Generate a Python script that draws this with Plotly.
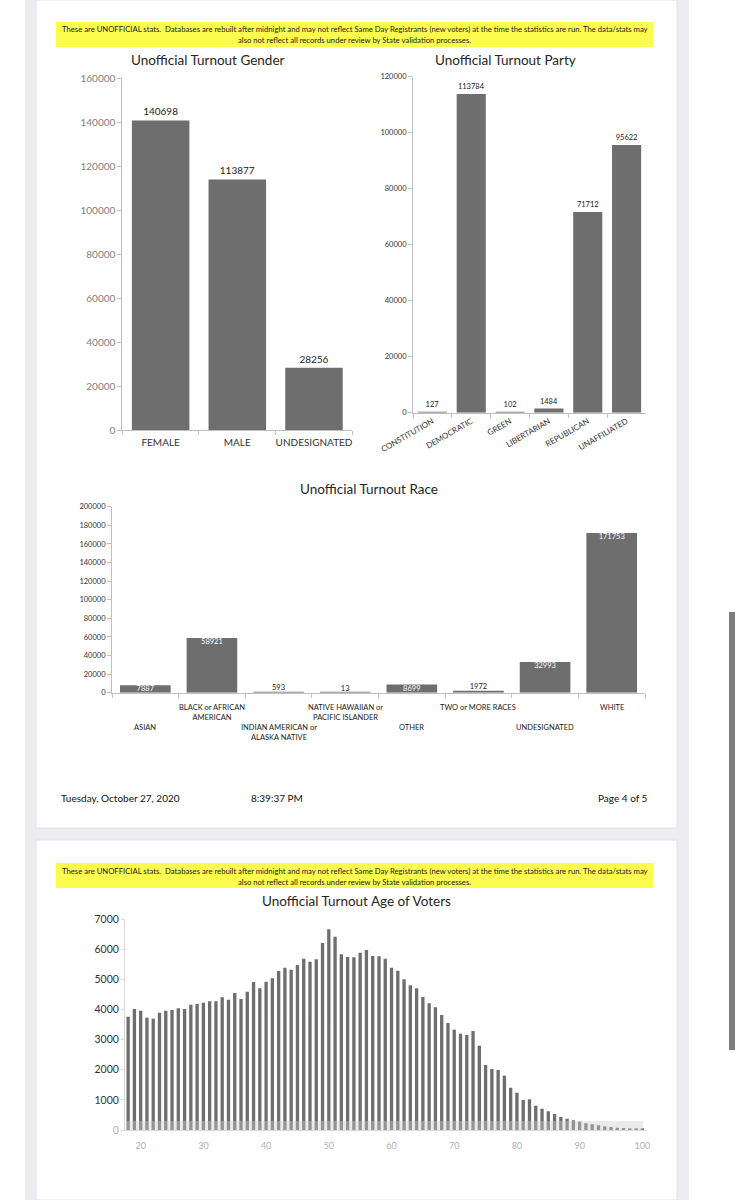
import plotly.graph_objects as go

# ---------------- data ----------------
gender_cats = ["FEMALE", "MALE", "UNDESIGNATED"]
gender_vals = [140698, 113877, 28256]

party_cats = ["CONSTITUTION", "DEMOCRATIC", "GREEN", "LIBERTARIAN", "REPUBLICAN", "UNAFFILIATED"]
party_vals = [127, 113784, 102, 1484, 71712, 95622]

race_cats = ["ASIAN", "BLACK or AFRICAN<br>AMERICAN", "INDIAN AMERICAN or<br>ALASKA NATIVE",
             "NATIVE HAWAIIAN or<br>PACIFIC ISLANDER", "OTHER", "TWO or MORE RACES",
             "UNDESIGNATED", "WHITE"]
race_vals = [7887, 58921, 593, 13, 8699, 1972, 32993, 171753]

ages = list(range(18, 101))
age_vals = [3765, 4020, 3965, 3732, 3699, 3898, 3965, 3987, 4042, 4020,
            4164, 4186, 4230, 4275, 4275, 4408, 4330, 4551, 4352, 4596,
            4917, 4707, 4928, 5039, 5282, 5393, 5327, 5482, 5692, 5592,
            5670, 6213, 6667, 6423, 5836, 5748, 5736, 5891, 5980, 5781,
            5770, 5692, 5393, 5293, 5006, 4806, 4707, 4419, 4208, 4075,
            3821, 3555, 3333, 3200, 3156, 3289, 2802, 2159, 2027, 1993,
            1805, 1406, 1240, 997, 1019, 808, 709, 620, 532, 432,
            377, 321, 277, 221, 188, 155, 122, 100, 77, 66,
            55, 44, 33]
age_ticks = [20, 30, 40, 50, 60, 70, 80, 90, 100]

banner_lines = [
    "These are UNOFFICIAL stats.  Databases are rebuilt after midnight and may not reflect Same Day Registrants (new voters) at the time the statistics are run. The data/stats may",
    "also not reflect all records under review by State validation processes.",
]
footer_date = "Tuesday, October 27, 2020"
footer_time = "8:39:37 PM"
footer_page = "Page 4 of 5"

# ---------------- style ----------------
W, H = 741, 1200
FONT = "Lato"
BAR = "#6e6e6e"
AXIS = "#bfbfbf"


def fx(p):
    return p / W


def fy(p):
    return 1 - p / H


fig = go.Figure()

# Gender
fig.add_trace(go.Bar(x=gender_cats, y=gender_vals, xaxis="x", yaxis="y", marker_color=BAR,
                     marker_line_width=0, width=0.75,
                     text=[str(v) for v in gender_vals], textposition="outside",
                     textfont=dict(family=FONT, size=10, color="#222222"), cliponaxis=False,
                     showlegend=False))
# Party
fig.add_trace(go.Bar(x=party_cats, y=party_vals, xaxis="x2", yaxis="y2", marker_color=BAR,
                     marker_line_width=0, width=0.75,
                     text=[str(v) for v in party_vals], textposition="outside",
                     textfont=dict(family=FONT, size=7.5, color="#222222"), cliponaxis=False,
                     showlegend=False))
# Race
fig.add_trace(go.Bar(x=race_cats, y=race_vals, xaxis="x3", yaxis="y3", marker_color=BAR,
                     marker_line_width=0, width=0.76, showlegend=False))
race_pos, race_y, race_col = [], [], []
for v in race_vals:
    if v > 20000:
        race_pos.append("bottom center"); race_y.append(v); race_col.append("white")
    elif v > 5000:
        race_pos.append("middle center"); race_y.append(v / 2); race_col.append("white")
    else:
        race_pos.append("top center"); race_y.append(v); race_col.append("#222222")
fig.add_trace(go.Scatter(x=race_cats, y=race_y, xaxis="x3", yaxis="y3", mode="text",
                         text=[str(v) for v in race_vals], textposition=race_pos,
                         textfont=dict(family=FONT, size=7.5, color=race_col),
                         cliponaxis=False, showlegend=False, hoverinfo="skip"))
# Age
fig.add_trace(go.Bar(x=ages, y=age_vals, xaxis="x4", yaxis="y4", marker_color=BAR,
                     marker_line_width=0, width=0.53, showlegend=False))

common_x = dict(showline=True, linecolor=AXIS, linewidth=1, showgrid=False, zeroline=False,
                ticks="outside", tickcolor=AXIS, ticklen=4, fixedrange=True, automargin=False)
common_y = dict(showline=True, linecolor=AXIS, linewidth=1, showgrid=False, zeroline=False,
                ticks="outside", tickcolor=AXIS, ticklen=4, tickformat="d", fixedrange=True,
                automargin=False)

fig.update_layout(
    width=W, height=H, autosize=False,
    margin=dict(l=0, r=0, t=0, b=0, pad=0, autoexpand=False),
    paper_bgcolor="white", plot_bgcolor="rgba(0,0,0,0)",
    font=dict(family=FONT, color="#222222"),
    showlegend=False,
    xaxis=dict(common_x, domain=[fx(122.3), fx(352.3)], anchor="y", type="category",
               tickson="boundaries", tickangle=0, tickfont=dict(size=10, color="#333333"),
               ticklabelstandoff=3),
    yaxis=dict(common_y, domain=[fy(430), fy(78)], anchor="x", range=[0, 160000], dtick=20000,
               tickfont=dict(size=10, color="#808080")),
    xaxis2=dict(common_x, domain=[fx(413), fx(646)], anchor="y2", type="category",
                tickson="boundaries", tickangle=-30, tickfont=dict(size=8, color="#333333")),
    yaxis2=dict(common_y, domain=[fy(412.7), fy(76.7)], anchor="x2", range=[0, 120000], dtick=20000,
                tickfont=dict(size=7.5, color="#333333")),
    xaxis3=dict(common_x, domain=[fx(112), fx(645)], anchor="y3", type="category",
                tickson="boundaries", showticklabels=False),
    yaxis3=dict(common_y, domain=[fy(692.7), fy(506.7)], anchor="x3", range=[0, 200000], dtick=20000,
                tickfont=dict(size=7.5, color="#333333")),
    xaxis4=dict(common_x, domain=[fx(125), fx(645.5)], anchor="y4", range=[17.5, 100.5],
                tickvals=age_ticks, ticks="", showline=True, linecolor="#d9d9d9", tickangle=0,
                tickfont=dict(size=9, color="#b0b0b0"), ticklabelstandoff=7),
    yaxis4=dict(common_y, domain=[fy(1130), fy(919.3)], anchor="x4", range=[0, 7000],
                tickvals=[0, 1000, 2000, 3000, 4000, 5000, 6000, 7000],
                ticktext=["<span style='color:#b0b0b0'>0</span>", "1000", "2000", "3000",
                          "4000", "5000", "6000", "7000"],
                linecolor="#d9d9d9", tickcolor="#d9d9d9", ticklen=3,
                tickfont=dict(size=10.5, color="#333333")),
)

# ---------------- background shapes ----------------
shapes = [
    dict(type="rect", xref="paper", yref="paper", x0=fx(25), x1=fx(689), y0=fy(1200), y1=fy(0),
         fillcolor="#ececf1", line_width=0, layer="below"),
    dict(type="rect", xref="paper", yref="paper", x0=fx(36), x1=fx(677), y0=fy(828), y1=fy(0),
         fillcolor="white", line=dict(color="#e2e2e6", width=1), layer="below"),
    dict(type="rect", xref="paper", yref="paper", x0=fx(36), x1=fx(677), y0=fy(1200), y1=fy(840),
         fillcolor="white", line=dict(color="#e2e2e6", width=1), layer="below"),
    dict(type="rect", xref="paper", yref="paper", x0=fx(56), x1=fx(653), y0=fy(47), y1=fy(22),
         fillcolor="#fcfc4e", line_width=0, layer="below"),
    dict(type="rect", xref="paper", yref="paper", x0=fx(56), x1=fx(653), y0=fy(888), y1=fy(863),
         fillcolor="#fcfc4e", line_width=0, layer="below"),
    dict(type="rect", xref="paper", yref="paper", x0=fx(729), x1=fx(735), y0=fy(1050), y1=fy(612),
         fillcolor="#7d7d7d", line_width=0, layer="below"),
    # faint blurred band at the foot of the age bars (scan artefact)
    dict(type="rect", xref="paper", yref="paper", x0=fx(126), x1=fx(643), y0=fy(1130), y1=fy(1121),
         fillcolor="rgba(205,205,205,0.4)", line_width=0, layer="above"),
]
fig.update_layout(shapes=shapes)

# ---------------- annotations ----------------
ann = []


def text(x, y, s, size, color="#222222", xanchor="center", yanchor="middle"):
    ann.append(dict(x=fx(x), y=fy(y), xref="paper", yref="paper", text=s,
                    showarrow=False, xanchor=xanchor, yanchor=yanchor,
                    font=dict(family=FONT, size=size, color=color)))


for top in (29, 871):
    text(354.5, top, banner_lines[0], 7.7)
    text(354.5, top + 11, banner_lines[1], 7.7)

text(208, 60, "Unofficial Turnout Gender", 13.5, "#262626")
text(505, 60, "Unofficial Turnout Party", 13.5, "#262626")
text(369, 489, "Unofficial Turnout Race", 13.5, "#262626")
text(356, 901, "Unofficial Turnout Age of Voters", 13.5, "#262626")

for i, c in enumerate(race_cats):
    ann.append(dict(x=c, y=fy(701 if i % 2 == 1 else 721), xref="x3", yref="paper", text=c,
                    showarrow=False, xanchor="center", yanchor="top",
                    font=dict(family=FONT, size=7.5, color="#222222")))

text(59, 798, footer_date, 10, "#111111", xanchor="left")
text(249, 798, footer_time, 10, "#111111", xanchor="left")
text(650, 798, footer_page, 10, "#111111", xanchor="right")

fig.update_layout(annotations=ann)

fig.write_html("out.html", config={"displayModeBar": False, "responsive": False},
               post_script="document.body.style.margin='0';document.body.style.overflow='hidden';")
